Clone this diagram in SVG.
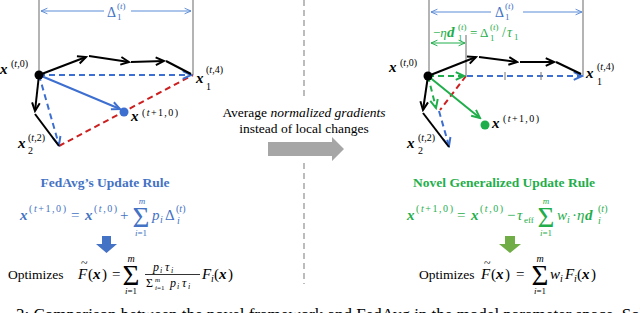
<svg xmlns="http://www.w3.org/2000/svg" width="640" height="313" viewBox="0 0 640 313">
<style>
text{font-family:"Liberation Serif","Times New Roman",serif;fill:#000}
.bx{font-weight:bold;font-style:italic;font-size:15px}
.it{font-style:italic}
.sup{font-size:10px}
.sm{font-size:9px}
.blue{fill:#4472c4}
.green{fill:#1fae4b}
.k{stroke:#000;stroke-width:2;fill:none}
.bd{stroke:#3d6fd0;stroke-width:2;stroke-dasharray:6 4;fill:none}
.gd{stroke:#1fae4b;stroke-width:2;stroke-dasharray:6 4;fill:none}
.rd{stroke:#cc1f1f;stroke-width:2;stroke-dasharray:6 4;fill:none}
.bs{stroke:#3d6fd0;stroke-width:2;fill:none}
.gs{stroke:#1fae4b;stroke-width:2;fill:none}
.vl{stroke:#8c8c8c;stroke-width:1.3}
.thinb{stroke:#5b8bd6;stroke-width:1;fill:none}
.thing{stroke:#1fae4b;stroke-width:1;fill:none}
</style>
<defs>
<marker id="ak" viewBox="0 0 10 10" refX="8.5" refY="5" markerWidth="11" markerHeight="11" markerUnits="userSpaceOnUse" orient="auto"><path d="M1,1.5 L8.5,5 L1,8.5" fill="none" stroke="#000" stroke-width="1.8"/></marker>
<marker id="ab" viewBox="0 0 10 10" refX="8.5" refY="5" markerWidth="11" markerHeight="11" markerUnits="userSpaceOnUse" orient="auto"><path d="M1,1.5 L8.5,5 L1,8.5" fill="none" stroke="#3d6fd0" stroke-width="1.8"/></marker>
<marker id="ag" viewBox="0 0 10 10" refX="8.5" refY="5" markerWidth="11" markerHeight="11" markerUnits="userSpaceOnUse" orient="auto"><path d="M1,1.5 L8.5,5 L1,8.5" fill="none" stroke="#1fae4b" stroke-width="1.8"/></marker>
<marker id="atb" viewBox="0 0 10 10" refX="9" refY="5" markerWidth="8" markerHeight="8" markerUnits="userSpaceOnUse" orient="auto-start-reverse"><path d="M1,1.5 L9,5 L1,8.5" fill="none" stroke="#5b8bd6" stroke-width="1.2"/></marker>
<marker id="atg" viewBox="0 0 10 10" refX="9" refY="5" markerWidth="8" markerHeight="8" markerUnits="userSpaceOnUse" orient="auto-start-reverse"><path d="M1,1.5 L9,5 L1,8.5" fill="none" stroke="#1fae4b" stroke-width="1.2"/></marker>
</defs>
<rect width="640" height="313" fill="#fff"/>

<g id="guides">
<line class="vl" x1="39" y1="0" x2="39" y2="75"/>
<line class="vl" x1="193" y1="0" x2="193" y2="75"/>
<line class="vl" x1="429" y1="0" x2="429" y2="76"/>
<line class="vl" x1="583" y1="0" x2="583" y2="75"/>
<line class="vl" x1="466" y1="35" x2="466" y2="76"/>
<line x1="304" y1="0" x2="304" y2="98" stroke="#a6a6a6" stroke-width="1.5" stroke-dasharray="6 4"/>
<line x1="304" y1="163" x2="304" y2="284" stroke="#a6a6a6" stroke-width="1.5" stroke-dasharray="6 4"/>
</g>

<g id="connectors">
<path class="thinb" d="M41,11 H104" marker-start="url(#atb)"/>
<path class="thinb" d="M131,11 H191" marker-end="url(#atb)"/>
<path class="rd" d="M59,146 L193,75"/>
<path class="bd" d="M39,75 L191,75" marker-end="url(#ab)"/>
<path class="bd" d="M39,75 L59,145" marker-end="url(#ab)"/>
<path class="k" d="M39,75 L86,57" marker-end="url(#ak)"/>
<path class="k" d="M89,56 L129,62" marker-end="url(#ak)"/>
<path class="k" d="M131,62 L164,61" marker-end="url(#ak)"/>
<path class="k" d="M166,61 L191,74"/>
<path class="k" d="M39,75 L35,111" marker-end="url(#ak)"/>
<path class="k" d="M35,114 L59,146"/>
<path class="bs" d="M39,75 L120,109" marker-end="url(#ab)"/>
<path class="thinb" d="M431,12 H491" marker-start="url(#atb)"/>
<path class="thinb" d="M523,12 H582" marker-end="url(#atb)"/>
<path class="thing" d="M431,43 H465" marker-start="url(#atg)" marker-end="url(#atg)"/>
<path class="rd" d="M466,76 L440,110"/>
<path class="bd" d="M467,76 L582,76" marker-end="url(#ab)"/>
<line x1="505" y1="72" x2="505" y2="80" stroke="#777" stroke-width="1"/>
<line x1="541" y1="72" x2="541" y2="80" stroke="#777" stroke-width="1"/>
<path class="bd" d="M439,111 L449,146" marker-end="url(#ab)"/>
<path class="gd" d="M428,76 L464,76" marker-end="url(#ag)"/>
<path class="gd" d="M428,76 L436,108" marker-end="url(#ag)"/>
<path class="k" d="M428,76 L476,57" marker-end="url(#ak)"/>
<path class="k" d="M479,57 L517,62" marker-end="url(#ak)"/>
<path class="k" d="M520,62 L554,62" marker-end="url(#ak)"/>
<path class="k" d="M556,62 L581,74"/>
<path class="k" d="M428,76 L423,110" marker-end="url(#ak)"/>
<path class="k" d="M423,113 L449,147"/>
<path class="gs" d="M428,76 L480,118" marker-end="url(#ag)"/>
</g>

<g id="points">
<circle cx="39" cy="75" r="4.5" fill="#000"/>
<circle cx="124" cy="112" r="4.5" fill="#3d6fd0"/>
<circle cx="428" cy="76" r="4.5" fill="#000"/>
<circle cx="485" cy="125" r="4.5" fill="#1fae4b"/>
</g>

<g id="left-labels">
<text x="107" y="17" class="blue" font-size="14">Δ</text>
<text x="117" y="9" class="blue sm">(<tspan class="it">t</tspan>)</text>
<text x="117" y="20" class="blue sm">1</text>
<text x="0" y="74" class="bx">x</text>
<text x="11" y="67" class="sup">(<tspan class="it">t</tspan>,0)</text>
<text x="196" y="83" class="bx">x</text>
<text x="206" y="73" class="sup">(<tspan class="it">t</tspan>,4)</text>
<text x="206" y="90" class="sup">1</text>
<text x="131" y="121" class="bx">x</text>
<text x="142" y="116" class="sup" textLength="36">(<tspan class="it">t</tspan>+1,0)</text>
<text x="18" y="148" class="bx">x</text>
<text x="28" y="141" class="sup">(<tspan class="it">t</tspan>,2)</text>
<text x="28" y="154" class="sup">2</text>
</g>

<g id="right-labels">
<text x="495" y="17" class="blue" font-size="14">Δ</text>
<text x="505" y="9" class="blue sm">(<tspan class="it">t</tspan>)</text>
<text x="505" y="20" class="blue sm">1</text>
<text x="433" y="37" class="green" font-size="13">−<tspan class="it">η</tspan></text>
<text x="447" y="37" class="green bx" font-size="14">d</text>
<text x="458" y="30" class="green sm">(<tspan class="it">t</tspan>)</text>
<text x="458" y="41" class="green sm">1</text>
<text x="470" y="37" class="green" font-size="13">=</text>
<text x="480" y="37" class="green" font-size="13">Δ</text>
<text x="490" y="30" class="green sm">(<tspan class="it">t</tspan>)</text>
<text x="490" y="41" class="green sm">1</text>
<text x="502" y="37" class="green" font-size="14">/</text>
<text x="507" y="37" class="green it" font-size="14">τ</text>
<text x="514" y="40" class="green sm">1</text>
<text x="389" y="72" class="bx">x</text>
<text x="400" y="66" class="sup">(<tspan class="it">t</tspan>,0)</text>
<text x="586" y="78" class="bx">x</text>
<text x="597" y="70" class="sup">(<tspan class="it">t</tspan>,4)</text>
<text x="597" y="85" class="sup">1</text>
<text x="492" y="128" class="bx">x</text>
<text x="503" y="122" class="sup" textLength="36">(<tspan class="it">t</tspan>+1,0)</text>
<text x="407" y="148" class="bx">x</text>
<text x="418" y="141" class="sup">(<tspan class="it">t</tspan>,2)</text>
<text x="418" y="154" class="sup">2</text>
</g>

<g id="middle">
<text x="304" y="117" font-size="13.5" text-anchor="middle">Average <tspan class="it">normalized gradients</tspan></text>
<text x="304" y="133" font-size="13.5" text-anchor="middle">instead of local changes</text>
<polygon points="268,142 332,142 332,137 344,149 332,161 332,156 268,156" fill="#a6a6a6"/>
</g>

<g id="fedavg-rule">
<text x="105" y="187" font-size="13.5" font-weight="bold" text-anchor="middle" class="blue">FedAvg’s Update Rule</text>
<text x="20" y="220" class="bx blue">x</text>
<text x="29" y="212" class="sup blue" textLength="37">(<tspan class="it">t</tspan>+1,0)</text>
<text x="71" y="220" font-size="15" class="blue">=</text>
<text x="85" y="220" class="bx blue">x</text>
<text x="94" y="212" class="sup blue" textLength="23">(<tspan class="it">t</tspan>,0)</text>
<text x="120" y="220" font-size="15" class="blue">+</text>
<text x="141" y="227" font-size="29" text-anchor="middle" class="blue">Σ</text>
<text x="142" y="204" font-size="9" text-anchor="middle" class="blue it">m</text>
<text x="141" y="236" font-size="9" text-anchor="middle" class="blue"><tspan class="it">i</tspan>=1</text>
<text x="152" y="220" font-size="15" class="blue it">p</text>
<text x="160" y="223" class="sup blue it">i</text>
<text x="165" y="220" font-size="15" class="blue">Δ</text>
<text x="176" y="212" class="sup blue">(<tspan class="it">t</tspan>)</text>
<text x="177" y="224" class="sup blue it">i</text>
<polygon points="102,236 111,236 111,244 117,244 106.5,253 96,244 102,244" fill="#4472c4"/>
</g>

<g id="fedavg-objective">
<text x="8" y="279" font-size="13.5">Optimizes</text>
<text x="81" y="267" font-size="12">~</text>
<text x="78" y="279" font-size="15" class="it">F</text>
<text x="88" y="279" font-size="15">(</text>
<text x="93" y="279" class="bx">x</text>
<text x="102" y="279" font-size="15">)</text>
<text x="112" y="279" font-size="15">=</text>
<text x="131" y="285" font-size="29" text-anchor="middle">Σ</text>
<text x="131" y="262" font-size="10" text-anchor="middle" class="it">m</text>
<text x="131" y="294" font-size="9" text-anchor="middle"><tspan class="it">i</tspan>=1</text>
<text x="153" y="271" font-size="12" class="it">p</text>
<text x="160" y="273" font-size="8" class="it">i</text>
<text x="165" y="271" font-size="12" class="it">τ</text>
<text x="171" y="273" font-size="8" class="it">i</text>
<line x1="145" y1="274.5" x2="200" y2="274.5" stroke="#000" stroke-width="0.8"/>
<text x="146" y="287" font-size="12">Σ</text>
<text x="155" y="282" font-size="7" class="it">m</text>
<text x="155" y="290" font-size="7"><tspan class="it">i</tspan>=1</text>
<text x="170" y="287" font-size="12" class="it">p</text>
<text x="177" y="289" font-size="8" class="it">i</text>
<text x="182" y="287" font-size="12" class="it">τ</text>
<text x="188" y="289" font-size="8" class="it">i</text>
<text x="202" y="279" font-size="15" class="it">F</text>
<text x="211" y="282" font-size="10" class="it">i</text>
<text x="214" y="279" font-size="15">(</text>
<text x="219" y="279" class="bx">x</text>
<text x="228" y="279" font-size="15">)</text>
</g>

<g id="novel-rule">
<text x="504" y="187" font-size="13.5" font-weight="bold" text-anchor="middle" class="green">Novel Generalized Update Rule</text>
<text x="407" y="220" class="bx green">x</text>
<text x="416" y="212" class="sup green" textLength="37">(<tspan class="it">t</tspan>+1,0)</text>
<text x="457" y="220" font-size="15" class="green">=</text>
<text x="471" y="220" class="bx green">x</text>
<text x="480" y="212" class="sup green" textLength="23">(<tspan class="it">t</tspan>,0)</text>
<text x="507" y="220" font-size="15" class="green">−</text>
<text x="517" y="220" font-size="15" class="green it">τ</text>
<text x="524" y="223" font-size="9" class="green">eff</text>
<text x="546" y="227" font-size="29" text-anchor="middle" class="green">Σ</text>
<text x="546" y="204" font-size="9" text-anchor="middle" class="green it">m</text>
<text x="546" y="236" font-size="9" text-anchor="middle" class="green"><tspan class="it">i</tspan>=1</text>
<text x="557" y="220" font-size="15" class="green it">w</text>
<text x="567" y="223" class="sup green it">i</text>
<text x="572" y="220" font-size="15" class="green">·</text>
<text x="577" y="220" font-size="15" class="green it">η</text>
<text x="585" y="220" class="bx green">d</text>
<text x="598" y="212" class="sup green">(<tspan class="it">t</tspan>)</text>
<text x="598" y="224" class="sup green it">i</text>
<polygon points="505,236 515,236 515,244 521,244 510,253 499,244 505,244" fill="#70ad47"/>
</g>

<g id="novel-objective">
<text x="419" y="279" font-size="13.5">Optimizes</text>
<text x="484" y="267" font-size="12">~</text>
<text x="481" y="279" font-size="15" class="it">F</text>
<text x="491" y="279" font-size="15">(</text>
<text x="496" y="279" class="bx">x</text>
<text x="505" y="279" font-size="15">)</text>
<text x="516" y="279" font-size="15">=</text>
<text x="540" y="285" font-size="29" text-anchor="middle">Σ</text>
<text x="540" y="262" font-size="10" text-anchor="middle" class="it">m</text>
<text x="540" y="294" font-size="9" text-anchor="middle"><tspan class="it">i</tspan>=1</text>
<text x="550" y="279" font-size="15" class="it">w</text>
<text x="560" y="282" font-size="10" class="it">i</text>
<text x="565" y="279" font-size="15" class="it">F</text>
<text x="574" y="282" font-size="10" class="it">i</text>
<text x="577" y="279" font-size="15">(</text>
<text x="582" y="279" class="bx">x</text>
<text x="591" y="279" font-size="15">)</text>
</g>

<text x="16" y="320" font-size="17">3: Comparison between the novel framework and FedAvg in the model parameter space. Solid black arrows</text>
</svg>
